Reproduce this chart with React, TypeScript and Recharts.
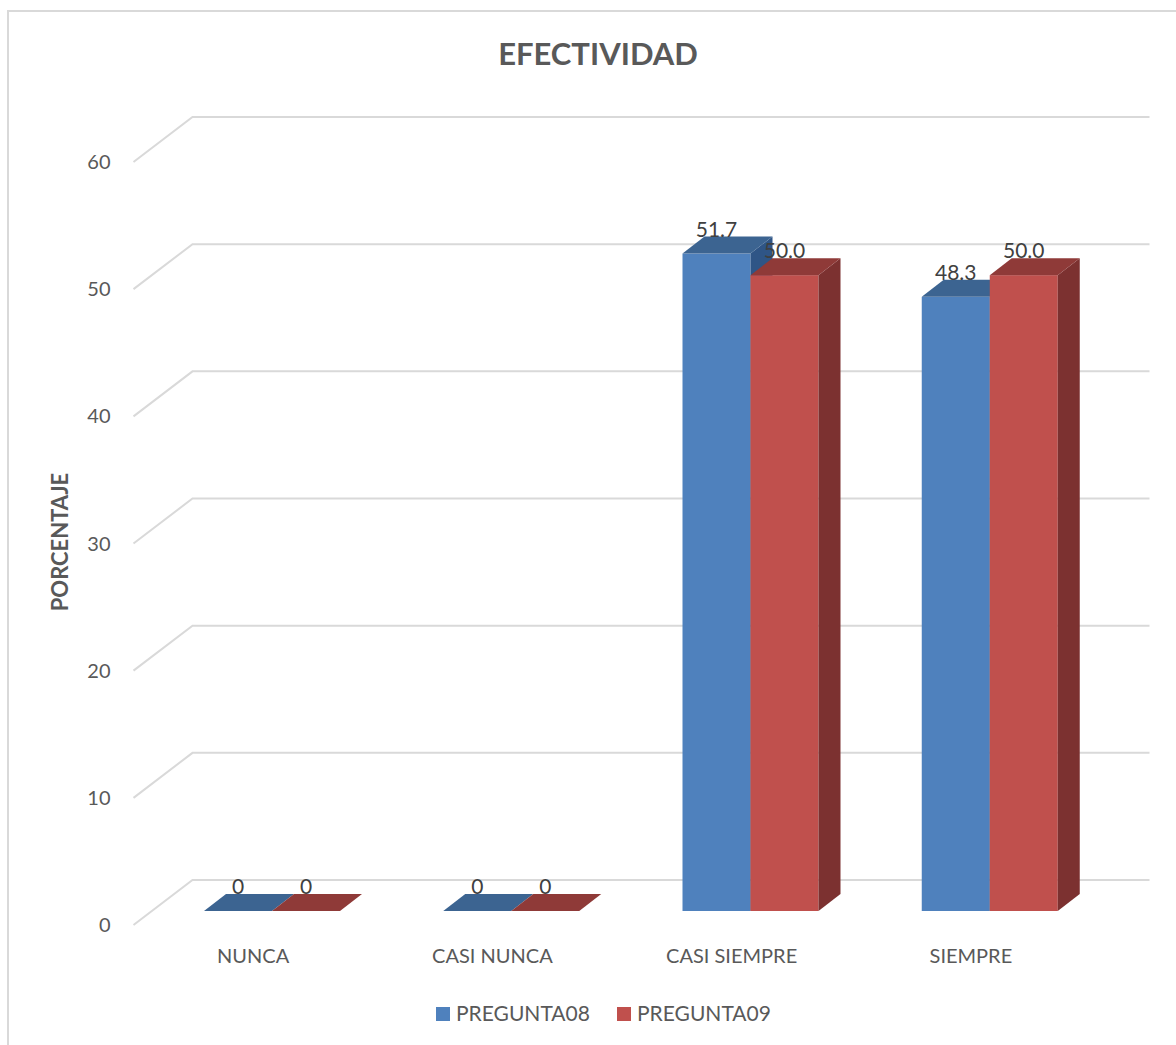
import React from "react";
import { BarChart, Bar, XAxis, YAxis, CartesianGrid, LabelList } from "recharts";

const categories = ["NUNCA", "CASI NUNCA", "CASI SIEMPRE", "SIEMPRE"];
const pregunta08 = [0, 0, 51.7, 48.3];
const pregunta09 = [0, 0, 50.0, 50.0];
const yTicks = [0, 10, 20, 30, 40, 50, 60];
const seriesNames = ["PREGUNTA08", "PREGUNTA09"];

const data = categories.map((name, i) => ({
  name,
  p08: pregunta08[i],
  p09: pregunta09[i],
}));

const FONT = "Lato, 'Open Sans', sans-serif";
const TEXT = "#595959";

// back wall offset (perspective of the grid)
const WALL_DX = 59;
const WALL_DY = 45;
// bars sit a bit deeper than the front plane
const SHIFT_X = 18.5;
const SHIFT_Y = 14;
// depth of each bar
const DEPTH_X = 22;
const DEPTH_Y = 17;

const BLUE = { front: "#4F81BD", top: "#3C6491", side: "#2F5586" };
const RED = { front: "#C0504D", top: "#8F3A38", side: "#7C3130" };

function makeBar(c: { front: string; top: string; side: string }) {
  return (props: any) => {
    const { x, y, width, height } = props;
    const x0 = x + SHIFT_X;
    const y0 = y - SHIFT_Y;
    const yb = y + height - SHIFT_Y;
    const w = width;
    return (
      <g>
        {height > 0 && <rect x={x0} y={y0} width={w} height={yb - y0} fill={c.front} />}
        <polygon
          points={`${x0 + w},${y0} ${x0 + w + DEPTH_X},${y0 - DEPTH_Y} ${x0 + w + DEPTH_X},${yb - DEPTH_Y} ${x0 + w},${yb}`}
          fill={c.side}
        />
        <polygon
          points={`${x0},${y0} ${x0 + DEPTH_X},${y0 - DEPTH_Y} ${x0 + w + DEPTH_X},${y0 - DEPTH_Y} ${x0 + w},${y0}`}
          fill={c.top}
        />
      </g>
    );
  };
}

const valueLabel = (props: any) => {
  const { x, y, width, value } = props;
  const txt = value === 0 ? "0" : Number(value).toFixed(1);
  return (
    <text
      x={x + SHIFT_X + width / 2}
      y={y - SHIFT_Y - DEPTH_Y}
      textAnchor="middle"
      fontFamily={FONT}
      fontSize={21}
      fill="#404040"
    >
      {txt}
    </text>
  );
};

const gridLine = (props: any) => {
  const { x1, x2, y1 } = props;
  return (
    <polyline
      key={`g-${y1}`}
      points={`${x1},${y1} ${x1 + WALL_DX},${y1 - WALL_DY} ${x2 + WALL_DX},${y1 - WALL_DY}`}
      fill="none"
      stroke="#d9d9d9"
      strokeWidth={2}
    />
  );
};

const yTick = (props: any) => {
  const { x, y, payload } = props;
  return (
    <text x={x} y={y} dy={7} textAnchor="end" fontFamily={FONT} fontSize={20} fill={TEXT}>
      {payload.value}
    </text>
  );
};

const xTick = (props: any) => {
  const { x, y, payload } = props;
  return (
    <text x={x} y={y + 38} textAnchor="middle" fontFamily={FONT} fontSize={20} fill={TEXT}>
      {payload.value}
    </text>
  );
};

export default function App() {
  const colors = [BLUE.front, RED.front];
  return (
    <div style={{ position: "absolute", left: 0, top: 0, background: "#fff" }}>
      <BarChart
        width={1176}
        height={1045}
        data={data}
        margin={{ top: 162, right: 85.5, left: 73.5, bottom: 90 }}
        barCategoryGap={52}
        barGap={0}
      >
        <rect x={8} y={11} width={1300} height={1200} fill="none" stroke="#d9d9d9" strokeWidth={2} />
        <CartesianGrid vertical={false} horizontal={gridLine} />
        <XAxis dataKey="name" axisLine={false} tickLine={false} tickSize={0} tickMargin={0} height={30} tick={xTick} />
        <YAxis
          domain={[0, 60]}
          ticks={yTicks}
          axisLine={false}
          tickLine={false}
          tickSize={0}
          tickMargin={23}
          width={60}
          tick={yTick}
        />
        <Bar dataKey="p08" name={seriesNames[0]} shape={makeBar(BLUE)} isAnimationActive={false}>
          <LabelList dataKey="p08" content={valueLabel} />
        </Bar>
        <Bar dataKey="p09" name={seriesNames[1]} shape={makeBar(RED)} isAnimationActive={false}>
          <LabelList dataKey="p09" content={valueLabel} />
        </Bar>
        <text x={598} y={65} textAnchor="middle" fontFamily={FONT} fontWeight="bold" fontSize={31} fill={TEXT}>
          EFECTIVIDAD
        </text>
        <text
          x={0}
          y={0}
          transform="translate(68,542) rotate(-90)"
          textAnchor="middle"
          fontFamily={FONT}
          fontWeight="bold"
          fontSize={22}
          fill={TEXT}
        >
          PORCENTAJE
        </text>
        {seriesNames.map((n, i) => (
          <g key={n}>
            <rect x={436 + i * 181} y={1007} width={14} height={14} fill={colors[i]} />
            <text x={456 + i * 181} y={1021} fontFamily={FONT} fontSize={21} fill={TEXT}>
              {n}
            </text>
          </g>
        ))}
      </BarChart>
    </div>
  );
}
